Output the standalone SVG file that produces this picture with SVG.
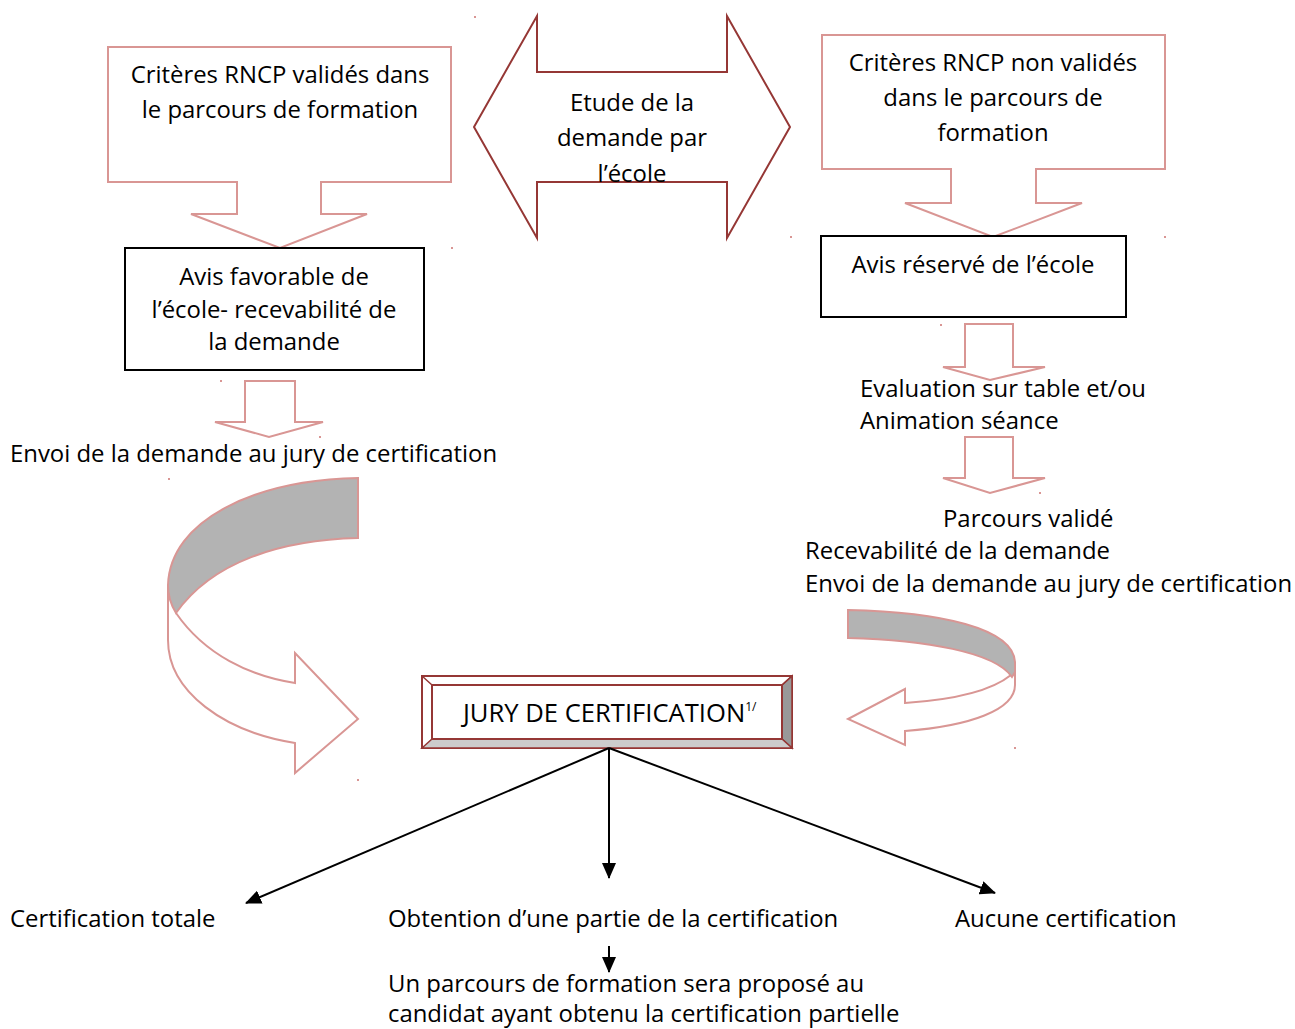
<svg xmlns="http://www.w3.org/2000/svg" width="1295" height="1029" viewBox="0 0 1295 1029">
<defs>
<style>
text{font-family:"Open Sans","Noto Sans","Liberation Sans",sans-serif;font-size:23.9px;fill:#000}
.c{text-anchor:middle}
.j{font-size:25.6px}
.sup{font-size:12px}
.pk{fill:#fff;stroke:#D99694;stroke-width:2}
.gr{fill:#B3B3B3;stroke:#D99694;stroke-width:2}
.bx{fill:#fff;stroke:#000;stroke-width:2}
.dr{fill:#fff;stroke:#953735;stroke-width:2}
.ln{stroke:#000;stroke-width:2;fill:none}
.dot{fill:#D99694}
</style>
<marker id="ah" markerWidth="16" markerHeight="14" refX="15" refY="7" orient="auto" markerUnits="userSpaceOnUse" viewBox="0 0 16 14">
<path d="M0,0 L16,7 L0,14 Z" fill="#000"/>
</marker>
</defs>
<rect width="1295" height="1029" fill="#fff"/>

<g id="criteres-valides">
<path class="pk" d="M108,47 H451 V182 H321 V214 H367 L280,248 L191,214 H237 V182 H108 Z"/>
<text class="c" x="280" y="83">Critères RNCP validés dans</text>
<text class="c" x="280" y="118">le parcours de formation</text>
</g>

<g id="etude-demande">
<path class="dr" d="M474,127 L537,16 V72 H727 V16 L790,127 L727,238 V182 H537 V238 Z"/>
<text class="c" x="632" y="111">Etude de la</text>
<text class="c" x="632" y="146">demande par</text>
<text class="c" x="632" y="182">l’école</text>
</g>

<g id="criteres-non-valides">
<path class="pk" d="M822,35 H1165 V169 H1036 V203 H1082 L993,237 L905,203 H951 V169 H822 Z"/>
<text class="c" x="993" y="71">Critères RNCP non validés</text>
<text class="c" x="993" y="106">dans le parcours de</text>
<text class="c" x="993" y="141">formation</text>
</g>

<g id="avis-favorable">
<rect class="bx" x="125" y="248" width="299" height="122"/>
<text class="c" x="274" y="285">Avis favorable de</text>
<text class="c" x="274" y="318">l’école- recevabilité de</text>
<text class="c" x="274" y="350">la demande</text>
</g>

<g id="avis-reserve">
<rect class="bx" x="821" y="236" width="305" height="81"/>
<text class="c" x="973" y="273">Avis réservé de l’école</text>
</g>

<g id="envoi-gauche">
<path class="pk" d="M245,381 H295 V422 H323 L269,437 L215,422 H245 Z"/>
<text x="10" y="462">Envoi de la demande au jury de certification</text>
</g>

<g id="evaluation">
<path class="pk" d="M965,324 H1013 V367 H1045 L990,380 L943,367 H965 Z"/>
<text x="860" y="397">Evaluation sur table et/ou</text>
<text x="860" y="429">Animation séance</text>
</g>

<g id="parcours-valide">
<path class="pk" d="M965,437 H1013 V478 H1045 L990,493 L943,478 H965 Z"/>
<text x="943" y="527">Parcours validé</text>
<text x="805" y="559">Recevabilité de la demande</text>
<text x="805" y="592">Envoi de la demande au jury de certification</text>
</g>

<g id="fleche-courbe-gauche">
<path class="pk" d="M176,613 C205,655 250,676 295,683 L295,653 L358,719 L295,773 L295,743 C225,732 168,692 168,640 L168,585"/>
<path class="gr" d="M358,478 C255,480 170,520 168,585 C168,596 171,605 176,613 C212,562 280,540 358,538 Z"/>
</g>

<g id="fleche-courbe-droite">
<path class="pk" d="M1011,675 C990,692 950,700 905,703 L905,689 L848,719 L905,745 L905,731 C970,726 1015,710 1015,685 L1015,665"/>
<path class="gr" d="M848,610 C940,612 1013,628 1015,662 L1015,672 L1012,677 C995,652 925,640 848,638 Z"/>
</g>

<g id="jury">
<rect x="422" y="676" width="370" height="72" fill="#fff" stroke="#953735" stroke-width="2"/>
<path d="M782,685 L792,676 L792,748 L782,739 Z" fill="#999" stroke="#953735" stroke-width="1.5"/>
<path d="M422,748 L432,739 L782,739 L792,748 Z" fill="#ccc" stroke="#953735" stroke-width="1.5"/>
<path d="M422,676 L432,685 M792,676 L782,685" stroke="#953735" stroke-width="1.5"/>
<rect x="432" y="685" width="350" height="54" fill="#fff" stroke="#953735" stroke-width="2"/>
<text class="j" x="463" y="722">JURY DE CERTIFICATION<tspan class="sup" dy="-11">1/</tspan></text>
</g>

<g id="resultats">
<text x="10" y="927">Certification totale</text>
<text x="388" y="927">Obtention d’une partie de la certification</text>
<text x="955" y="927">Aucune certification</text>
<text x="388" y="992">Un parcours de formation sera proposé au</text>
<text x="388" y="1022">candidat ayant obtenu la certification partielle</text>
</g>

<g id="connecteurs">
<line class="ln" x1="609" y1="748" x2="246" y2="903" marker-end="url(#ah)"/>
<line class="ln" x1="609" y1="748" x2="609" y2="878" marker-end="url(#ah)"/>
<line class="ln" x1="609" y1="748" x2="995" y2="893" marker-end="url(#ah)"/>
<line class="ln" x1="609" y1="946" x2="609" y2="972" marker-end="url(#ah)"/>
</g>

<g id="points">
<rect class="dot" x="474" y="16" width="2" height="2"/>
<rect class="dot" x="451" y="247" width="2" height="2"/>
<rect class="dot" x="790" y="236" width="2" height="2"/>
<rect class="dot" x="1164" y="236" width="2" height="2"/>
<rect class="dot" x="220" y="380" width="2" height="2"/>
<rect class="dot" x="319" y="436" width="2" height="2"/>
<rect class="dot" x="168" y="478" width="2" height="2"/>
<rect class="dot" x="357" y="779" width="2" height="2"/>
<rect class="dot" x="1014" y="747" width="2" height="2"/>
<rect class="dot" x="940" y="324" width="2" height="2"/>
<rect class="dot" x="1039" y="492" width="2" height="2"/>
</g>
</svg>
